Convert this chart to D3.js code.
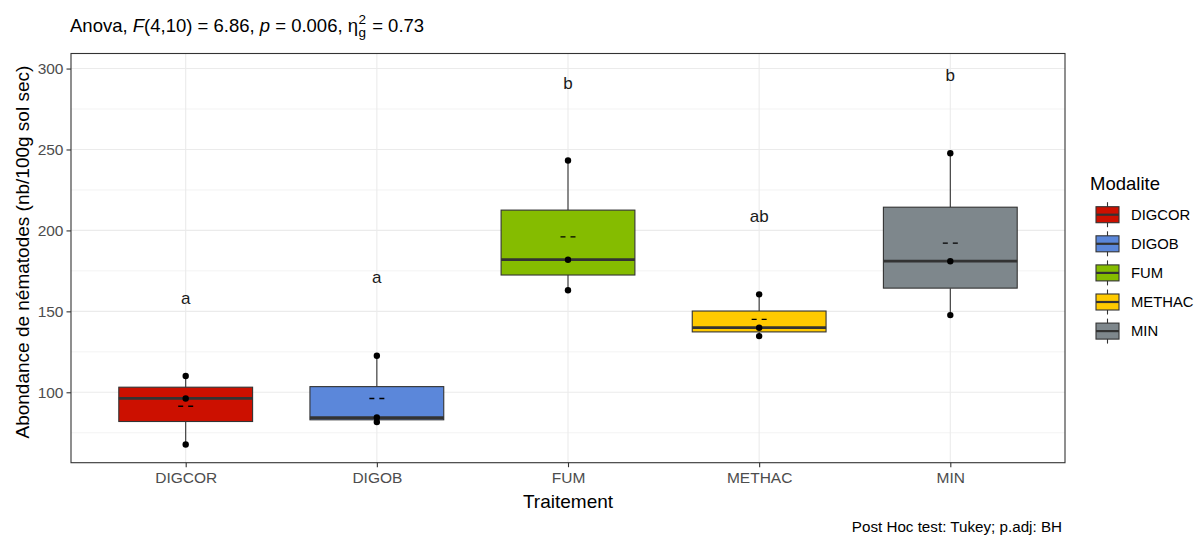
<!DOCTYPE html>
<html>
<head>
<meta charset="utf-8">
<script src="https://cdn.jsdelivr.net/npm/d3@7"></script>
<style>
  html, body { margin: 0; padding: 0; background: #ffffff; }
  svg { display: block; font-family: "Liberation Sans", Arial, sans-serif; }
</style>
</head>
<body>
<svg id="chart" width="1195" height="535"></svg>
<script>
// ---- data ----
const categories = ["DIGCOR", "DIGOB", "FUM", "METHAC", "MIN"];
const digcorValues = [67.7, 96.2, 110.1];
const digobValues = [81.6, 84.4, 122.6];
const fumValues = [163.0, 181.9, 243.2];
const methacValues = [134.7, 139.9, 160.5];
const minValues = [147.7, 181.0, 247.7];
const groupLetters = ["a", "a", "b", "ab", "b"];
const letterValues = [158, 171, 291, 209, 296];
const yTicks = [100, 150, 200, 250, 300];
const yMinorTicks = [75, 125, 175, 225, 275];
const colors = ["#CC1000", "#5B87DA", "#85BC00", "#FFCA00", "#7E878C"];

const seriesValues = [digcorValues, digobValues, fumValues, methacValues, minValues];

// ---- layout ----
const panel = { left: 71, right: 1065, top: 53.5, bottom: 462.7 };
const FONT = "Liberation Sans, Arial, sans-serif";

const svg = d3.select("#chart");

const x = d3.scalePoint().domain(categories).range([panel.left, panel.right]).padding(0.6);
const y = d3.scaleLinear().domain([56.5, 309.3]).range([panel.bottom, panel.top]);
const color = d3.scaleOrdinal().domain(categories).range(colors);
const boxW = x.step() * 0.7;

// grid
const grid = svg.append("g");
grid.selectAll("line.minor").data(yMinorTicks).join("line")
  .attr("x1", panel.left).attr("x2", panel.right)
  .attr("y1", d => y(d)).attr("y2", d => y(d))
  .attr("stroke", "#EBEBEB").attr("stroke-width", 0.6);
grid.selectAll("line.major").data(yTicks).join("line")
  .attr("x1", panel.left).attr("x2", panel.right)
  .attr("y1", d => y(d)).attr("y2", d => y(d))
  .attr("stroke", "#EBEBEB").attr("stroke-width", 1.1);
grid.selectAll("line.vx").data(categories).join("line")
  .attr("x1", d => x(d)).attr("x2", d => x(d))
  .attr("y1", panel.top).attr("y2", panel.bottom)
  .attr("stroke", "#EBEBEB").attr("stroke-width", 1.1);

// boxes
const stats = categories.map((c, i) => {
  const v = seriesValues[i].slice().sort(d3.ascending);
  return {
    cat: c,
    vals: v,
    q1: d3.quantile(v, 0.25),
    med: d3.quantile(v, 0.5),
    q3: d3.quantile(v, 0.75),
    min: d3.min(v),
    max: d3.max(v),
    mean: d3.mean(v),
    letter: groupLetters[i],
    letterY: letterValues[i]
  };
});

const boxes = svg.append("g").selectAll("g").data(stats).join("g");
boxes.append("line")
  .attr("x1", d => x(d.cat)).attr("x2", d => x(d.cat))
  .attr("y1", d => y(d.max)).attr("y2", d => y(d.q3))
  .attr("stroke", "#333333").attr("stroke-width", 1.1);
boxes.append("line")
  .attr("x1", d => x(d.cat)).attr("x2", d => x(d.cat))
  .attr("y1", d => y(d.q1)).attr("y2", d => y(d.min))
  .attr("stroke", "#333333").attr("stroke-width", 1.1);
boxes.append("rect")
  .attr("x", d => x(d.cat) - boxW / 2).attr("width", boxW)
  .attr("y", d => y(d.q3)).attr("height", d => y(d.q1) - y(d.q3))
  .attr("fill", d => color(d.cat))
  .attr("stroke", "#333333").attr("stroke-width", 1.1);
boxes.append("line")
  .attr("x1", d => x(d.cat) - boxW / 2).attr("x2", d => x(d.cat) + boxW / 2)
  .attr("y1", d => y(d.med)).attr("y2", d => y(d.med))
  .attr("stroke", "#333333").attr("stroke-width", 2.8);
// mean marker (dashed)
boxes.append("line")
  .attr("x1", d => x(d.cat) - 7.5).attr("x2", d => x(d.cat) + 7.5)
  .attr("y1", d => y(d.mean)).attr("y2", d => y(d.mean))
  .attr("stroke", "#000000").attr("stroke-width", 1.4)
  .attr("stroke-dasharray", "5,5");
// points
boxes.selectAll("circle").data(d => d.vals.map(v => ({ cat: d.cat, v }))).join("circle")
  .attr("cx", d => x(d.cat)).attr("cy", d => y(d.v)).attr("r", 3.2)
  .attr("fill", "#000000");
// letters
boxes.append("text")
  .attr("x", d => x(d.cat)).attr("y", d => y(d.letterY))
  .attr("dy", "0.35em")
  .attr("text-anchor", "middle")
  .attr("font-size", 17).attr("fill", "#1a1a1a")
  .text(d => d.letter);

// panel border
svg.append("rect")
  .attr("x", panel.left).attr("y", panel.top)
  .attr("width", panel.right - panel.left).attr("height", panel.bottom - panel.top)
  .attr("fill", "none").attr("stroke", "#333333").attr("stroke-width", 1.1);

// axes
const yAxis = d3.axisLeft(y).tickValues(yTicks).tickSize(4.5).tickPadding(3);
const gy = svg.append("g").attr("transform", `translate(${panel.left},0)`).call(yAxis);
gy.select(".domain").remove();
gy.selectAll(".tick line").attr("stroke", "#333333").attr("stroke-width", 1.1);
gy.selectAll(".tick text").attr("fill", "#4D4D4D").attr("font-size", 15.5)
  .attr("font-family", FONT);

const xAxis = d3.axisBottom(x).tickSize(4.5).tickPadding(5);
const gx = svg.append("g").attr("transform", `translate(0,${panel.bottom})`).call(xAxis);
gx.select(".domain").remove();
gx.selectAll(".tick line").attr("stroke", "#333333").attr("stroke-width", 1.1);
gx.selectAll(".tick text").attr("fill", "#4D4D4D").attr("font-size", 15.5)
  .attr("font-family", FONT);

// axis titles
svg.append("text")
  .attr("x", (panel.left + panel.right) / 2).attr("y", 508)
  .attr("text-anchor", "middle").attr("font-size", 19).attr("fill", "#000")
  .text("Traitement");
svg.append("text")
  .attr("transform", `translate(29,${(panel.top + panel.bottom) / 2 - 6}) rotate(-90)`)
  .attr("text-anchor", "middle").attr("font-size", 19).attr("fill", "#000")
  .text("Abondance de nématodes (nb/100g sol sec)");

// title
const title = svg.append("text").attr("x", 70).attr("y", 32).attr("font-size", 18.5).attr("fill", "#000");
title.append("tspan").text("Anova, ");
title.append("tspan").attr("font-style", "italic").text("F");
title.append("tspan").text("(4,10) = 6.86, ");
title.append("tspan").attr("font-style", "italic").text("p");
title.append("tspan").text(" = 0.006, η");
const etaEnd = 70 + title.node().getComputedTextLength();
svg.append("text").attr("x", etaEnd + 0.5).attr("y", 24).attr("font-size", 13.5).attr("fill", "#000").text("2");
svg.append("text").attr("x", etaEnd + 0.5).attr("y", 37).attr("font-size", 13.5).attr("fill", "#000").text("g");
svg.append("text").attr("x", etaEnd + 9).attr("y", 32).attr("font-size", 18.5).attr("fill", "#000")
  .style("white-space", "pre").text(" = 0.73");

// caption
svg.append("text")
  .attr("x", 1062).attr("y", 532)
  .attr("text-anchor", "end").attr("font-size", 15.2).attr("fill", "#000")
  .text("Post Hoc test: Tukey; p.adj: BH");

// legend
const legend = svg.append("g");
legend.append("text").attr("x", 1090).attr("y", 190).attr("font-size", 18.5).attr("fill", "#000").text("Modalite");
const keyY0 = 214.7, keyStep = 29.1, keyX = 1107.5, keyW = 23, keyH = 16;
const keys = legend.selectAll("g.key").data(categories).join("g")
  .attr("transform", (d, i) => `translate(0,${keyY0 + i * keyStep})`);
keys.append("line").attr("x1", keyX).attr("x2", keyX).attr("y1", -12.5).attr("y2", 12.5)
  .attr("stroke", "#333333").attr("stroke-width", 1.1);
keys.append("rect").attr("x", keyX - keyW / 2).attr("y", -keyH / 2)
  .attr("width", keyW).attr("height", keyH)
  .attr("fill", d => color(d)).attr("stroke", "#333333").attr("stroke-width", 1.1);
keys.append("line").attr("x1", keyX - keyW / 2).attr("x2", keyX + keyW / 2).attr("y1", 0).attr("y2", 0)
  .attr("stroke", "#333333").attr("stroke-width", 2.2);
keys.append("text").attr("x", 1131).attr("y", 0).attr("dy", "0.35em")
  .attr("font-size", 14.8).attr("fill", "#000").text(d => d);
</script>
</body>
</html>
